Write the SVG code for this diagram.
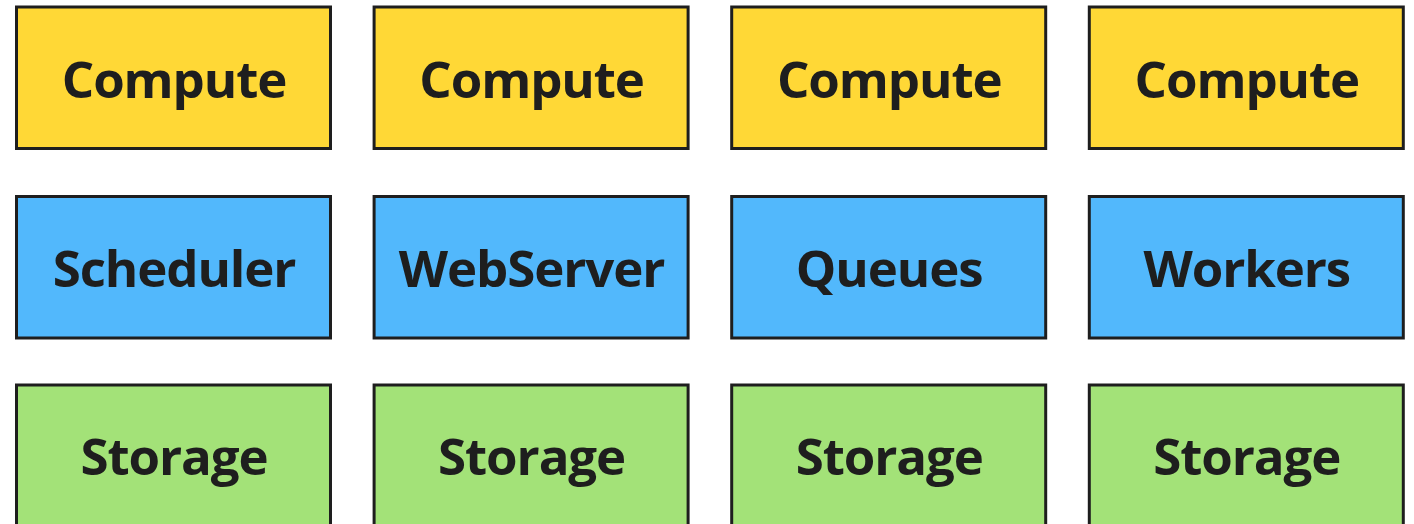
<svg xmlns="http://www.w3.org/2000/svg" width="1414" height="524" viewBox="0 0 1414 524">
  <style>
    .box { stroke: #1e1e1e; stroke-width: 3; }
    .compute { fill: #ffd836; }
    .service { fill: #52b8fc; }
    .storage { fill: #a3e278; }
    .label { font-family: "Open Sans", "Noto Sans", sans-serif; font-weight: 700; font-size: 51px; letter-spacing: -1.1px; fill: #1e1e1e; text-anchor: middle; }
  </style>
  <rect width="1414" height="524" fill="#ffffff"/>
  <g id="connectors"></g>

  <!-- Row 1: compute -->
  <g id="compute-1"><rect class="box compute" x="16.5" y="7" width="314" height="141.5"/><text class="label" x="174" y="97.5">Compute</text></g>
  <g id="compute-2"><rect class="box compute" x="374.1" y="7" width="314" height="141.5"/><text class="label" x="531.6" y="97.5">Compute</text></g>
  <g id="compute-3"><rect class="box compute" x="731.7" y="7" width="314" height="141.5"/><text class="label" x="889.2" y="97.5">Compute</text></g>
  <g id="compute-4"><rect class="box compute" x="1089.3" y="7" width="314" height="141.5"/><text class="label" x="1246.8" y="97.5">Compute</text></g>

  <!-- Row 2: services -->
  <g id="scheduler"><rect class="box service" x="16.5" y="196.5" width="314" height="141.5"/><text class="label" x="174" y="286.5">Scheduler</text></g>
  <g id="webserver"><rect class="box service" x="374.1" y="196.5" width="314" height="141.5"/><text class="label" x="531.6" y="286.5">WebServer</text></g>
  <g id="queues"><rect class="box service" x="731.7" y="196.5" width="314" height="141.5"/><text class="label" x="889.2" y="286.5">Queues</text></g>
  <g id="workers"><rect class="box service" x="1089.3" y="196.5" width="314" height="141.5"/><text class="label" x="1246.8" y="286.5">Workers</text></g>

  <!-- Row 3: storage -->
  <g id="storage-1"><rect class="box storage" x="16.5" y="385" width="314" height="141.5"/><text class="label" x="174" y="475">Storage</text></g>
  <g id="storage-2"><rect class="box storage" x="374.1" y="385" width="314" height="141.5"/><text class="label" x="531.6" y="475">Storage</text></g>
  <g id="storage-3"><rect class="box storage" x="731.7" y="385" width="314" height="141.5"/><text class="label" x="889.2" y="475">Storage</text></g>
  <g id="storage-4"><rect class="box storage" x="1089.3" y="385" width="314" height="141.5"/><text class="label" x="1246.8" y="475">Storage</text></g>
</svg>
